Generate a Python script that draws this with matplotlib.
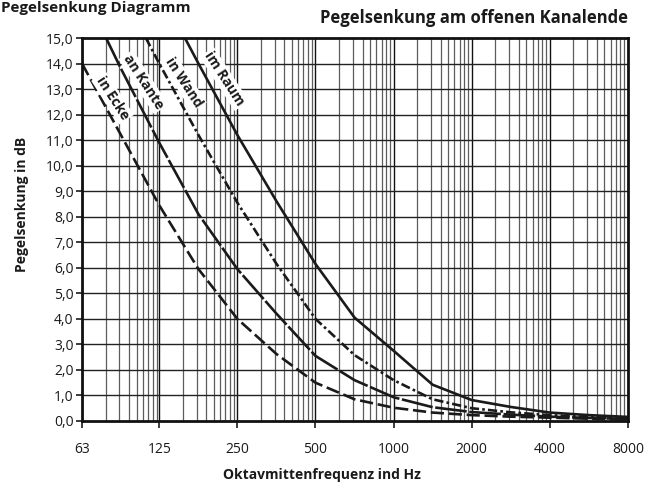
import numpy as np
import matplotlib
matplotlib.use("Agg")
from matplotlib import pyplot as plt
from matplotlib.ticker import FixedLocator, NullFormatter

plt.rcParams["font.family"] = ["Open Sans", "DejaVu Sans"]

# Oktavmittenfrequenzen (Achsenbeschriftung)
oktaven = [63, 125, 250, 500, 1000, 2000, 4000, 8000]
oktaven_text = ["63", "125", "250", "500", "1000", "2000", "4000", "8000"]

# Kurven (Hz, dB), Halboktav-Schritte
raum_f = [157, 177, 250, 354, 500, 707, 1000, 1414, 2000, 2828, 4000, 5657, 8000]
raum_db = [15.0, 14.0, 11.2, 8.6, 6.15, 4.05, 2.75, 1.42, 0.82, 0.55, 0.33, 0.23, 0.16]

wand_f = [111, 125, 177, 250, 354, 500, 707, 1000, 1414, 2000, 2828, 4000, 5657, 8000]
wand_db = [15.0, 14.0, 11.2, 8.55, 6.15, 4.0, 2.58, 1.6, 0.85, 0.5, 0.34, 0.23, 0.15, 0.1]

kante_f = [78, 89, 125, 177, 250, 354, 500, 707, 1000, 1414, 2000, 2828, 4000, 5657, 8000]
kante_db = [15.0, 13.8, 10.9, 8.1, 5.95, 4.2, 2.55, 1.6, 0.93, 0.54, 0.35, 0.25, 0.17, 0.12, 0.08]

ecke_f = [63, 89, 125, 177, 250, 354, 500, 707, 1000, 1414, 2000, 2828, 4000, 5657, 8000]
ecke_db = [14.0, 11.2, 8.45, 5.95, 4.0, 2.62, 1.5, 0.85, 0.52, 0.33, 0.23, 0.17, 0.13, 0.09, 0.06]

beschriftung = ["in Ecke", "an Kante", "in Wand", "im Raum"]
label_pos = [(73.5, 13.45), (93.5, 14.3), (135, 14.2), (192, 14.4)]

fig = plt.figure(figsize=(6.6, 4.84), dpi=100)
ax = fig.add_axes([82 / 660, 1 - 421 / 484, 546 / 660, 383 / 484])

ax.set_xscale("log", base=2)
ax.set_xlim(63, 8000)
ax.set_ylim(0, 15)

# Nebenraster: log10-Teilung innerhalb jeder Oktave
neben = []
for f0 in oktaven[:-1]:
    for m in range(2, 10):
        neben.append(f0 * 2 ** np.log10(m))
for x in neben:
    ax.axvline(x, color="#5c5c5c", lw=0.9, zorder=1)
for x in oktaven:
    ax.axvline(x, color="#111111", lw=1.0, zorder=1)
for y in range(1, 15):
    ax.axhline(y, color="#222222", lw=1.0, zorder=1)

lw = 1.9
ax.plot(ecke_f, ecke_db, color="#1a1a1a", lw=lw, linestyle=(0, (5, 1.8)), zorder=3)
ax.plot(kante_f, kante_db, color="#1a1a1a", lw=lw, linestyle=(0, (12, 1.0)), zorder=3)
ax.plot(wand_f, wand_db, color="#1a1a1a", lw=lw, linestyle=(0, (3.5, 1.2, 1.0, 1.2)), zorder=3)
ax.plot(raum_f, raum_db, color="#1a1a1a", lw=lw, linestyle="-", zorder=3)

for text, (fx, fy) in zip(beschriftung, label_pos):
    ax.text(fx, fy, text, rotation=-57, rotation_mode="anchor", ha="left", va="center",
            fontsize=10, fontweight="bold", color="#1a1a1a", zorder=4,
            bbox=dict(boxstyle="square,pad=0.12", facecolor="white", edgecolor="none"))

ax.xaxis.set_major_locator(FixedLocator(oktaven))
ax.set_xticklabels(oktaven_text)
ax.xaxis.set_minor_locator(FixedLocator([]))
ax.xaxis.set_minor_formatter(NullFormatter())
ax.set_yticks(range(0, 16))
ax.set_yticklabels([f"{v},0" for v in range(0, 16)])
ax.tick_params(axis="both", labelsize=10, colors="#1a1a1a", direction="out", width=1.2)
ax.tick_params(axis="x", length=5, pad=10)
ax.tick_params(axis="y", length=4, pad=2)

for s in ax.spines.values():
    s.set_linewidth(2.0)
    s.set_color("#111111")
    s.set_zorder(5)

fig.text(628 / 660, 1 - 18 / 484, "Pegelsenkung am offenen Kanalende", ha="right", va="center",
         fontsize=12, fontweight="bold", color="#1a1a1a")
fig.text(1 / 660, 1 - 1 / 484, "Pegelsenkung Diagramm", ha="left", va="top",
         fontsize=11, fontweight="bold", color="#1a1a1a")
fig.text(322 / 660, 1 - 475 / 484, "Oktavmittenfrequenz ind Hz", ha="center", va="center",
         fontsize=10, fontweight="bold", color="#1a1a1a")
fig.text(22 / 660, 1 - 204 / 484, "Pegelsenkung in dB", ha="center", va="center", rotation=90,
         fontsize=10, fontweight="bold", color="#1a1a1a")

fig.savefig("out.png", dpi=100)
